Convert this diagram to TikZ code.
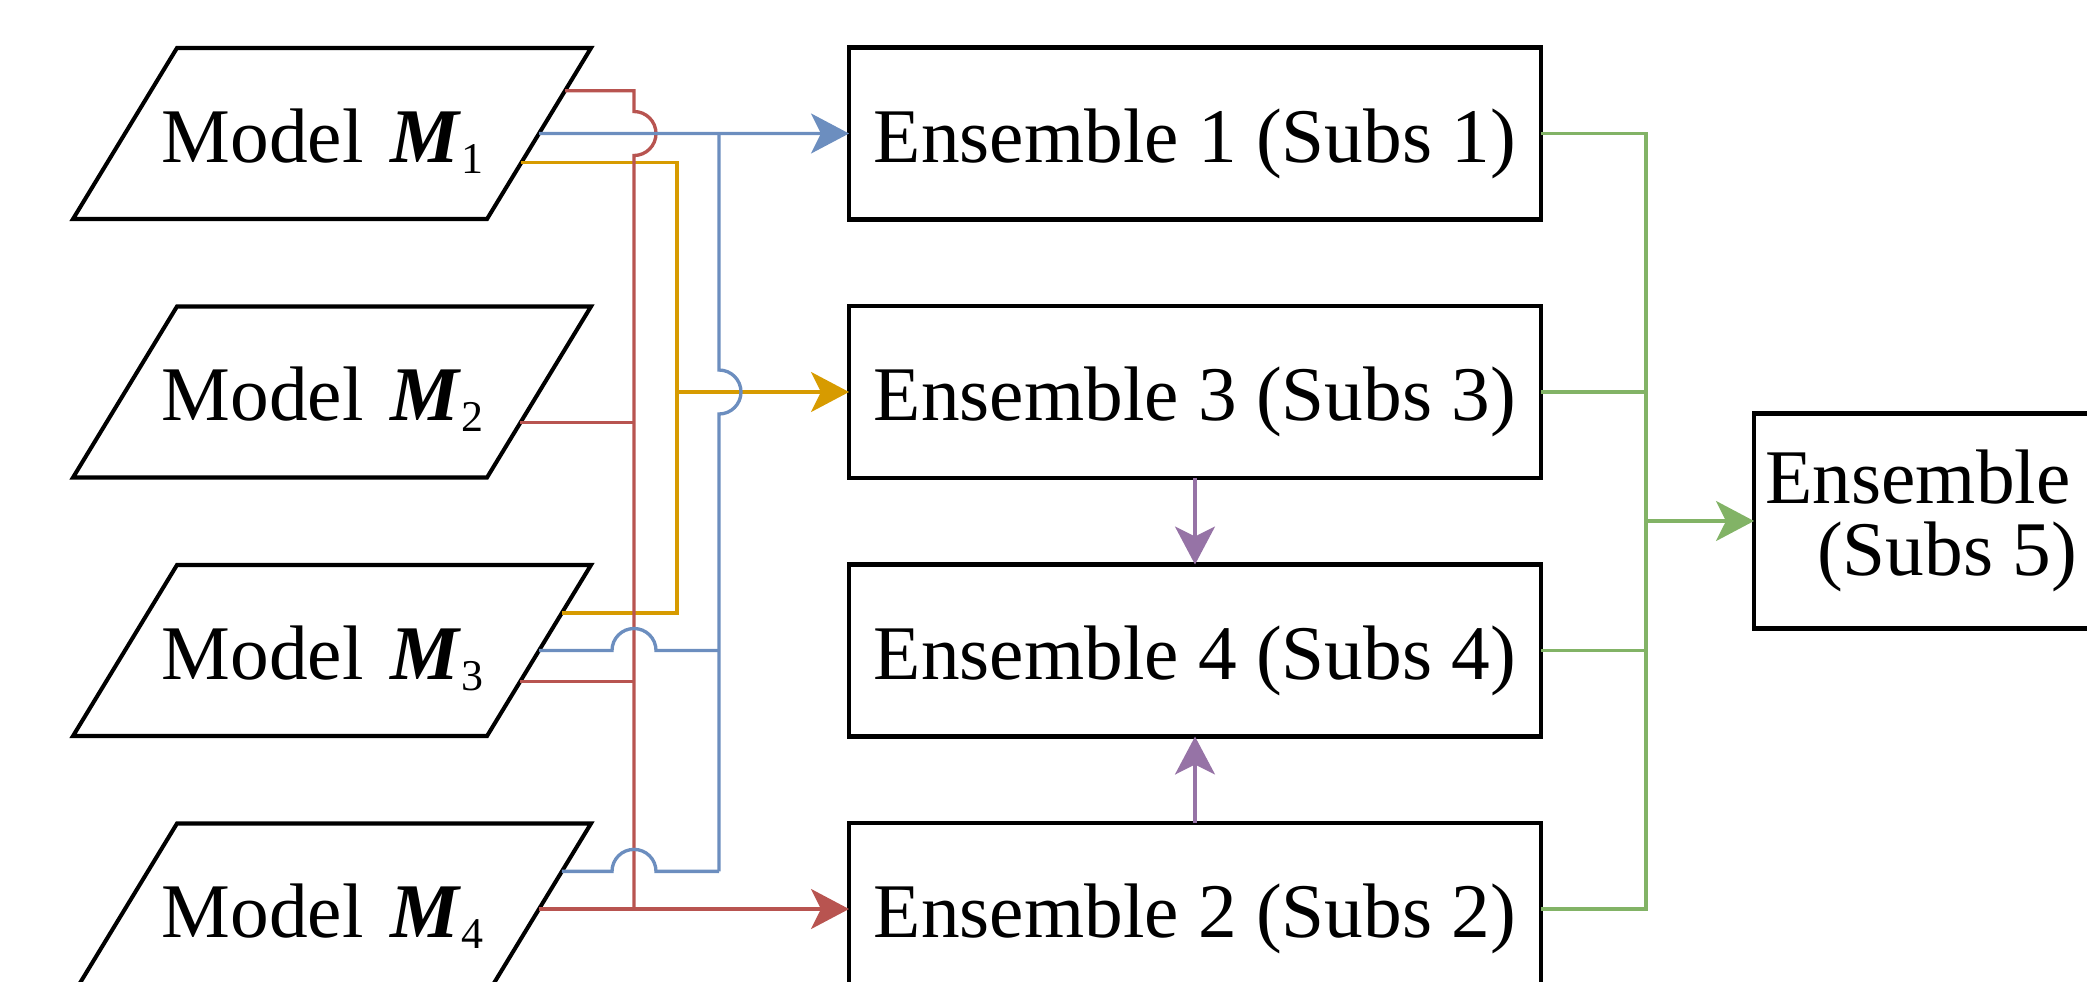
\documentclass[tikz,border=0pt]{standalone}
\usepackage{fontspec}
\setmainfont{Liberation Serif}
\usetikzlibrary{arrows.meta, positioning, shapes.geometric, calc}
\definecolor{cblue}{HTML}{6C8EBF}
\definecolor{cred}{HTML}{B85450}
\definecolor{corange}{HTML}{D79B00}
\definecolor{cgreen}{HTML}{82B366}
\definecolor{cpurple}{HTML}{9673A6}
% zero-width label so the slanted box keeps its own size
\newcommand{\modelname}[1]{\makebox[0pt]{Model\hspace{0.27cm}\textbf{\textit{M}}\raisebox{-0.11cm}{\fontsize{12.5}{12.5}\selectfont #1}\hspace{0.19cm}}}
\tikzset{
  every picture/.style={font=\fontsize{22}{26}\selectfont},
  model/.style={trapezium, trapezium left angle=58.7, trapezium right angle=121.3, trapezium stretches body=true,
    draw, line width=1.15pt, fill=white, minimum width=5.18cm, minimum height=1.71cm,
    inner xsep=0pt, inner ysep=0.57cm, outer sep=0pt, text height=0.57cm, text depth=0pt},
  ebox/.style={draw, line width=1.15pt, fill=white, inner sep=0pt, outer sep=0pt},
  ens/.style={ebox, minimum width=6.92cm, minimum height=1.72cm, text height=0.57cm, text depth=0pt},
  link/.style={draw=#1, line width=0.95pt},
  arrow/.style={link=#1, -{Stealth[length=3.8mm, width=4mm, inset=1mm]}},
}

\begin{document}
\begin{tikzpicture}
  \useasboundingbox (0,0) rectangle (20.87,-9.81);
  \clip (0,0) rectangle (20.87,-9.81);
  % models
  \node[model] (m1) at (3.32,-1.335) {\modelname{1}};
  \node[model] (m2) at (3.32,-3.92) {\modelname{2}};
  \node[model] (m3) at (3.32,-6.505) {\modelname{3}};
  \node[model] (m4) at (3.32,-9.09) {\modelname{4}};
  % ensembles
  \node[ens] (e1) at (11.95,-1.335) {Ensemble 1 (Subs 1)};
  \node[ens] (e3) at (11.95,-3.92) {Ensemble 3 (Subs 3)};
  \node[ens] (e4) at (11.95,-6.505) {Ensemble 4 (Subs 4)};
  \node[ens] (e2) at (11.95,-9.09) {Ensemble 2 (Subs 2)};
  \node[ebox, minimum width=3.86cm, minimum height=2.15cm, align=center, font=\fontsize{22}{20.5}\selectfont] (e5) at (19.47,-5.21) {Ensemble 5\\(Subs 5)};

  % where the lines leave the models
  \coordinate (r1) at ($(m1.top right corner)!0.25!(m1.bottom right corner)$);
  \coordinate (b1) at ($(m1.top right corner)!0.5!(m1.bottom right corner)$);
  \coordinate (o1) at ($(m1.top right corner)!0.67!(m1.bottom right corner)$);
  \coordinate (r2) at ($(m2.top right corner)!0.68!(m2.bottom right corner)$);
  \coordinate (o3) at ($(m3.top right corner)!0.28!(m3.bottom right corner)$);
  \coordinate (b3) at ($(m3.top right corner)!0.5!(m3.bottom right corner)$);
  \coordinate (r3) at ($(m3.top right corner)!0.68!(m3.bottom right corner)$);
  \coordinate (b4) at ($(m4.top right corner)!0.28!(m4.bottom right corner)$);
  \coordinate (r4) at ($(m4.top right corner)!0.5!(m4.bottom right corner)$);
  % vertical buses
  \coordinate (rbus) at (6.34,0);
  \coordinate (obus) at (6.77,0);
  \coordinate (bbus) at (7.19,0);
  \coordinate (gbus) at (16.46,0);

  % orange
  \draw[link=corange] (o1) -- (o1 -| obus) -- (obus |- o3) -- (o3);
  \draw[arrow=corange] (obus |- e3) -- (e3.west);
  % red
  \draw[link=cred] (r1) -- (r1 -| rbus) -- ($(rbus |- b1)+(0,2.2mm)$)
    arc[start angle=90, end angle=-90, radius=2.2mm] -- (rbus |- e2);
  \draw[link=cred] (r2) -- (r2 -| rbus);
  \draw[link=cred] (r3) -- (r3 -| rbus);
  \draw[arrow=cred] (r4) -- (e2.west);
  % blue
  \draw[arrow=cblue] (b1) -- (e1.west);
  \draw[link=cblue] (bbus |- e1) -- ($(bbus |- e3)+(0,2.2mm)$)
    arc[start angle=90, end angle=-90, radius=2.2mm] -- (bbus |- b4);
  \draw[link=cblue] (b3) -- ($(rbus |- b3)+(-2.2mm,0)$)
    arc[start angle=180, end angle=0, radius=2.2mm] -- (b3 -| bbus);
  \draw[link=cblue] (b4) -- ($(rbus |- b4)+(-2.2mm,0)$)
    arc[start angle=180, end angle=0, radius=2.2mm] -- (b4 -| bbus);
  % green
  \draw[link=cgreen] (e1.east) -- (e1.east -| gbus) -- (e2.east -| gbus) -- (e2.east);
  \draw[link=cgreen] (e3.east) -- (e3.east -| gbus);
  \draw[link=cgreen] (e4.east) -- (e4.east -| gbus);
  \draw[arrow=cgreen] (e5.west -| gbus) -- (e5.west);
  % purple
  \draw[arrow=cpurple] (e3.south) -- (e4.north);
  \draw[arrow=cpurple] (e2.north) -- (e4.south);
\end{tikzpicture}
\end{document}
